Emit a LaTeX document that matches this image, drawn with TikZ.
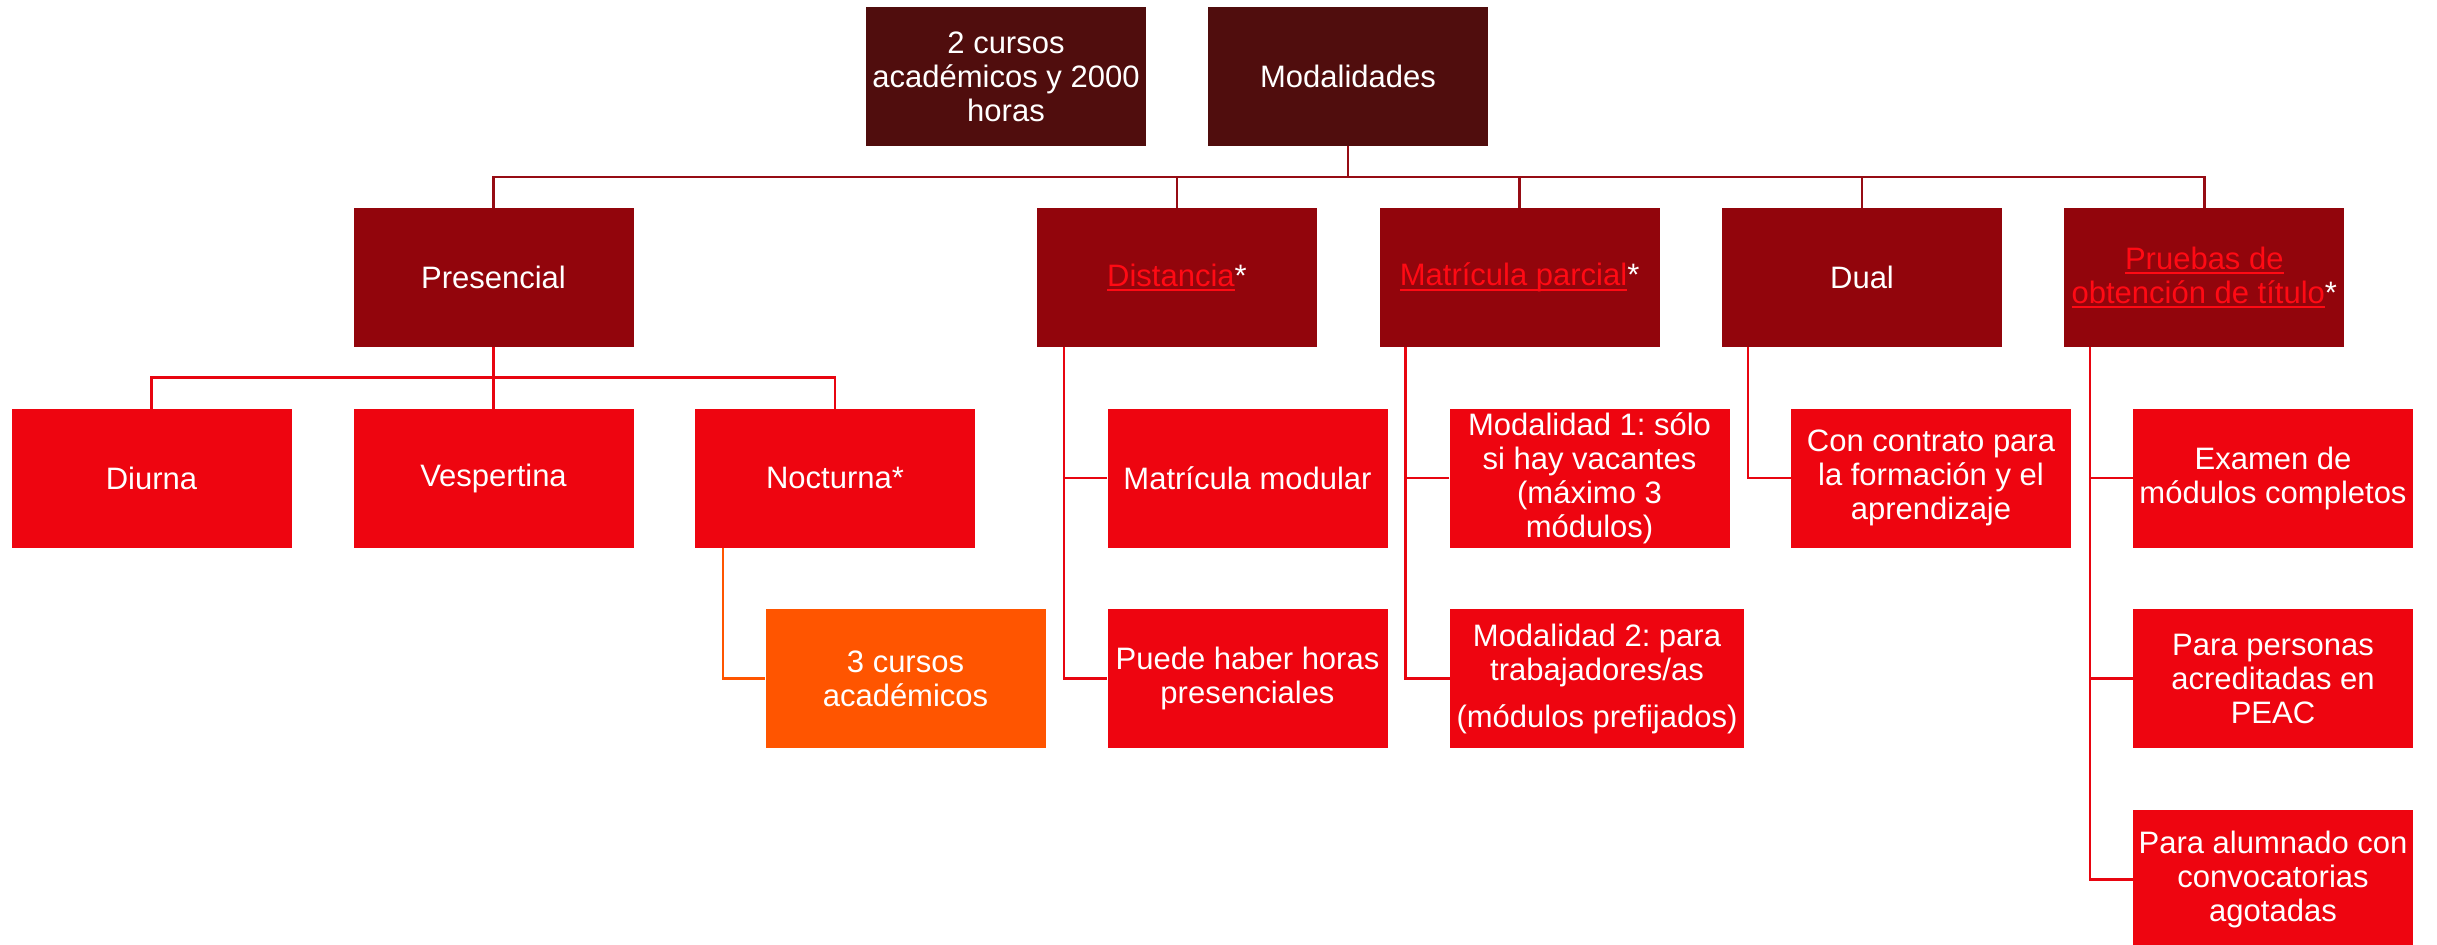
\documentclass[tikz,border=0pt]{standalone}
\usepackage{fontspec}
\setmainfont{Liberation Sans}
\frenchspacing
\definecolor{topfill}{RGB}{80,13,13}
\definecolor{midfill}{RGB}{146,5,12}
\definecolor{lowfill}{RGB}{238,5,16}
\definecolor{orfill}{RGB}{255,85,0}
\definecolor{linkred}{RGB}{255,10,20}
\definecolor{conA}{RGB}{150,12,20}
\definecolor{conB}{RGB}{232,5,16}
\newsavebox{\lnkbox}
\newcommand{\lnk}[1]{\sbox{\lnkbox}{\color{linkred}#1}{\color{linkred}\rlap{\rule[-5pt]{\wd\lnkbox}{2.2pt}}}\usebox{\lnkbox}}
\tikzset{
  box/.style={rectangle, inner sep=2pt, minimum width=280pt, minimum height=139pt,
    align=center, text=white, font=\fontsize{31}{34}\selectfont},
  topbox/.style={box, fill=topfill},
  midbox/.style={box, fill=midfill},
  lowbox/.style={box, fill=lowfill},
  orbox/.style={box, fill=orfill},
  cA/.style={draw=conA, line width=2.5pt},
  cB/.style={draw=conB, line width=2.5pt},
  cC/.style={draw=orfill, line width=2.5pt},
}
\begin{document}
\begin{tikzpicture}[x=1pt,y=-1pt]
\useasboundingbox (0,0) rectangle (2437,945);
% top row
\node[topbox] (cursos) at (1006,76.7) {2 cursos\\acad\'emicos y 2000\\horas};
\node[topbox] (modal) at (1348,76.7) {Modalidades};
% level 2
\node[midbox] (pres) at (493.5,277.5) {Presencial};
\node[midbox] (dist) at (1177,277.5) {\lnk{Distancia}*};
\node[midbox] (mpar) at (1519.6,277.5) {\lnk{Matr\'icula parcial}*};
\node[midbox] (dual) at (1862,277.5) {Dual};
\node[midbox] (prue) at (2204.3,277.5) {\lnk{Pruebas de}\\\lnk{obtenci\'on de t\'itulo}*};
% level 3 row A
\node[lowbox] (diurna) at (151.5,478.2) {Diurna};
\node[lowbox] (vesp) at (493.5,478.2) {Vespertina};
\node[lowbox] (noct) at (835,478.2) {Nocturna*};
\node[lowbox] (matmod) at (1247.5,478.2) {Matr\'icula modular};
\node[lowbox] (mod1) at (1589.5,478.2) {Modalidad 1: s\'olo\\si hay vacantes\\(m\'aximo 3\\m\'odulos)};
\node[lowbox] (contrato) at (1931,478.2) {Con contrato para\\la formaci\'on y el\\aprendizaje};
\node[lowbox] (examen) at (2273,478.2) {Examen de\\m\'odulos completos};
% row B
\node[orbox] (tres) at (905.5,678.5) {3 cursos\\acad\'emicos};
\node[lowbox] (puede) at (1247.5,678.5) {Puede haber horas\\presenciales};
\node[lowbox, minimum width=294pt] (mod2) at (1597,678.5) {Modalidad 2: para\\trabajadores/as\\[13pt](m\'odulos prefijados)};
\node[lowbox] (personas) at (2273,678.5) {Para personas\\acreditadas en\\PEAC};
% row C
\node[lowbox] (alumnado) at (2273,879.5) {Para alumnado con\\convocatorias\\agotadas};
% connectors level 1
\coordinate (bus) at (0,177);
\draw[cA] (modal.south) -- (modal.south |- bus);
\draw[cA] (pres.north) |- (bus -| prue.north) -- (prue.north);
\draw[cA] (dist.north) -- (dist.north |- bus);
\draw[cA] (mpar.north) -- (mpar.north |- bus);
\draw[cA] (dual.north) -- (dual.north |- bus);
% presencial children
\coordinate (bus2) at (0,377.7);
\draw[cB] (diurna.north) |- (bus2 -| noct.north) -- (noct.north);
\draw[cB] (pres.south) -- (vesp.north);
% spine start points
\coordinate (nsp) at ([xshift=28pt]noct.south west);
\coordinate (dsp) at ([xshift=27pt]dist.south west);
\coordinate (msp) at ([xshift=26pt]mpar.south west);
\coordinate (usp) at ([xshift=26pt]dual.south west);
\coordinate (psp) at ([xshift=26pt]prue.south west);
% nocturna child
\draw[cC] (nsp) |- (tres.west);
% distancia children
\draw[cB] (dsp) |- (puede.west);
\draw[cB] (matmod.west) -- (matmod.west -| dsp);
% matricula parcial children
\draw[cB] (msp) |- (mod2.west);
\draw[cB] (mod1.west) -- (mod1.west -| msp);
% dual child
\draw[cB] (usp) |- (contrato.west);
% pruebas children
\draw[cB] (psp) |- (alumnado.west);
\draw[cB] (examen.west) -- (examen.west -| psp);
\draw[cB] (personas.west) -- (personas.west -| psp);
\end{tikzpicture}
\end{document}
